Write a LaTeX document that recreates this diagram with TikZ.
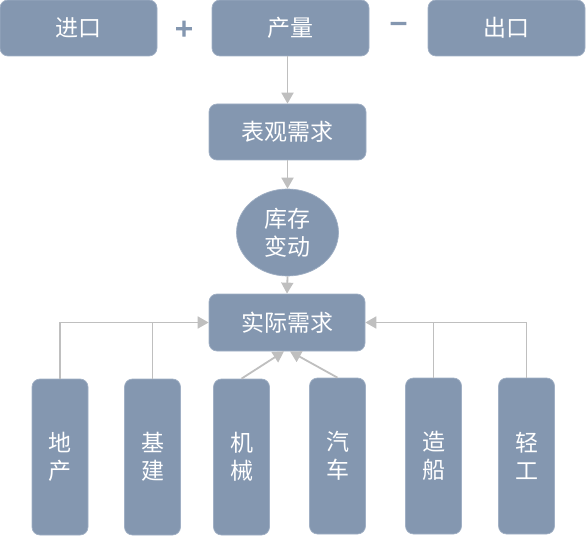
\documentclass[tikz,border=0pt]{standalone}
\usepackage{fontspec}
\newfontfamily\cjk{Noto Sans CJK SC}
\newfontfamily\opfont[FakeBold=4]{Liberation Sans}
\usetikzlibrary{arrows.meta}
\definecolor{boxc}{RGB}{132,151,176}
\definecolor{edgec}{RGB}{160,175,196}
\definecolor{arrc}{RGB}{191,191,191}
\tikzset{
  box/.style={draw=edgec, line width=0.7pt, fill=boxc, rounded corners=8pt, inner sep=0pt,
    text=white, font=\cjk\fontsize{23}{28}\selectfont, align=center},
  hbox/.style={box, minimum width=157pt, minimum height=56pt},
  vbox/.style={box, minimum width=56pt, minimum height=156pt},
  oval/.style={draw=edgec, line width=0.7pt, fill=boxc, ellipse, inner sep=0pt,
    minimum width=102pt, minimum height=87pt, text=white,
    font=\cjk\fontsize{23}{28}\selectfont, align=center},
  arr/.style={draw=arrc, line width=1.8pt, -{Triangle[width=12pt,length=11pt]}},
  conn/.style={draw=arrc, line width=1.8pt},
  op/.style={text=boxc, inner sep=0pt, font=\opfont\fontsize{30}{30}\selectfont}
}
\usetikzlibrary{shapes.geometric}
\begin{document}
\begin{tikzpicture}[x=1pt,y=-1pt]
\useasboundingbox (0,0) rectangle (586,537);
\node[hbox] (jk) at (78.5,28) {进口};
\node[hbox] (cl) at (290.5,28) {产量};
\node[hbox] (ck) at (506.5,28) {出口};
\node[op] (plus) at (184,30) {+};
\node[op] (minus) at (398.5,28) {−};
\node[hbox] (bg) at (287.5,132) {表观需求};
\node[oval] (kc) at (287.5,232.5) {库存\\变动};
\node[hbox, minimum width=156pt, minimum height=57pt] (sj) at (287,322.5) {实际需求};
\node[vbox] (dc) at (60,457) {地\\产};
\node[vbox] (jj) at (152.5,457) {基\\建};
\node[vbox] (jx) at (241.5,457) {机\\械};
\node[vbox] (qc) at (337.5,456) {汽\\车};
\node[vbox] (zc) at (433.5,456) {造\\船};
\node[vbox] (qg) at (526.5,456) {轻\\工};
\draw[arr] (cl.south -| bg.north) -- (bg.north);
\draw[arr] (bg.south) -- (kc.north);
\draw[arr] (kc.south) -- (sj.north);
\draw[conn] (jj.north) -- (jj.north |- sj.west);
\draw[arr] (dc.north) |- (sj.west);
\draw[conn] (zc.north) -- (zc.north |- sj.east);
\draw[arr] (qg.north) |- (sj.east);
\draw[arr] (jx.north) -- ([xshift=-3pt]sj.south);
\draw[arr] (qc.north) -- ([xshift=3pt]sj.south);
\end{tikzpicture}
\end{document}
